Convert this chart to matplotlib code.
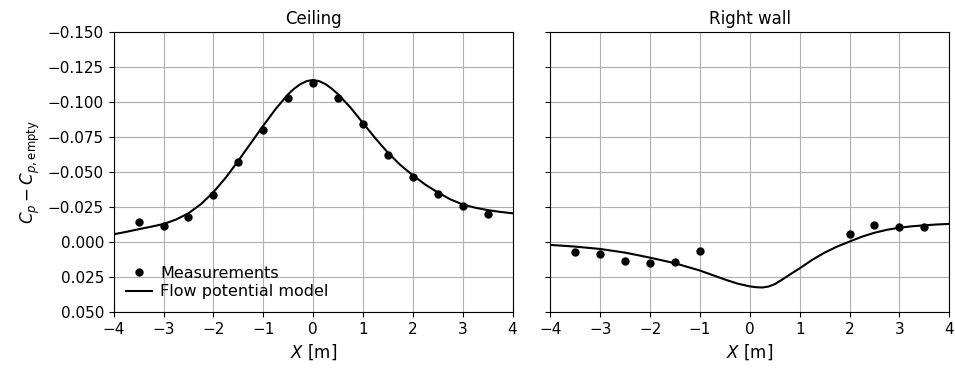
import numpy as np
import matplotlib
matplotlib.use('Agg')
import matplotlib.pyplot as plt
from matplotlib.ticker import FuncFormatter

# --- datos ---
x_medidas = [-3.5, -3.0, -2.5, -2.0, -1.5, -1.0, -0.5, 0.0, 0.5, 1.0, 1.5, 2.0, 2.5, 3.0, 3.5]
techo_medidas = [-0.0141, -0.0114, -0.0180, -0.0338, -0.0569, -0.0799, -0.1030, -0.1138,
                 -0.1031, -0.0843, -0.0621, -0.0462, -0.0343, -0.0256, -0.0198]

x_pared = [-3.5, -3.0, -2.5, -2.0, -1.5, -1.0, 2.0, 2.5, 3.0, 3.5]
pared_medidas = [0.0071, 0.0085, 0.0133, 0.0151, 0.0145, 0.0064, -0.0055, -0.0121, -0.0106, -0.0110]

# modelo de flujo potencial (techo)
x_modelo_techo = [-4.0, -3.75, -3.5, -3.25, -3.0, -2.75, -2.5, -2.25, -2.0, -1.75, -1.5, -1.25,
                  -1.0, -0.75, -0.5, -0.375, -0.25, -0.125, 0.0, 0.125, 0.25, 0.375, 0.5, 0.75,
                  1.0, 1.25, 1.5, 1.75, 2.0, 2.25, 2.5, 2.75, 3.0, 3.25, 3.5, 3.75, 4.0]
techo_modelo = [-0.0055, -0.0072, -0.0091, -0.0109, -0.0128, -0.0160, -0.0205, -0.0270,
                -0.0355, -0.0460, -0.0580, -0.0705, -0.0830, -0.0950, -0.1055, -0.1096,
                -0.1128, -0.1149, -0.1157, -0.1148, -0.1127, -0.1095, -0.1055, -0.0960,
                -0.0850, -0.0740, -0.0638, -0.0550, -0.0476, -0.0410, -0.0354, -0.0305,
                -0.0268, -0.0245, -0.0228, -0.0215, -0.0205]

# modelo de flujo potencial (pared derecha)
x_modelo_pared = [-4.0, -3.5, -3.0, -2.5, -2.0, -1.5, -1.0, -0.75, -0.5, -0.25, 0.0, 0.125,
                  0.25, 0.375, 0.5, 0.625, 0.75, 0.875, 1.0, 1.25, 1.5, 1.75, 2.0, 2.25,
                  2.5, 2.75, 3.0, 3.25, 3.5, 3.75, 4.0]
pared_modelo = [0.0021, 0.0033, 0.0050, 0.0076, 0.0112, 0.0152, 0.0204, 0.0236,
                0.0268, 0.0297, 0.0317, 0.0323, 0.0325, 0.0318, 0.0301, 0.0274,
                0.0245, 0.0216, 0.0188, 0.0128, 0.0076, 0.0033, -0.0003, -0.0038,
                -0.0066, -0.0087, -0.0102, -0.0112, -0.0119, -0.0125, -0.0129]


def formato_y(v, pos):
    if abs(v) < 1e-9:
        v = 0.0
    return f'{v:.3f}'.replace('-', '\u2212')


fig, (ax1, ax2) = plt.subplots(1, 2, figsize=(9.55, 3.71), dpi=100, sharey=True)
fig.subplots_adjust(left=0.119, right=0.994, bottom=0.159, top=0.914, wspace=0.095)

paneles = [
    (ax1, 'Ceiling', x_medidas, techo_medidas, x_modelo_techo, techo_modelo),
    (ax2, 'Right wall', x_pared, pared_medidas, x_modelo_pared, pared_modelo),
]
for ax, titulo, xm, ym, xmod, ymod in paneles:
    ax.plot(xm, ym, 'o', color='black', markersize=5, label='Measurements')
    ax.plot(xmod, ymod, '-', color='black', linewidth=1.5, label='Flow potential model')
    ax.set_title(titulo, fontsize=12)
    ax.set_xlabel('$X$ [m]', fontsize=12)
    ax.set_xlim(-4, 4)
    ax.set_xticks(np.arange(-4, 5, 1))
    ax.grid(True)
    ax.tick_params(labelsize=11)

ax1.set_ylim(0.05, -0.15)
ax1.set_yticks(np.arange(-0.15, 0.0501, 0.025))
ax1.yaxis.set_major_formatter(FuncFormatter(formato_y))
ax1.set_ylabel(r'$C_p - C_{p,\mathrm{empty}}$', fontsize=12)
ax1.legend(loc='lower left', frameon=False, fontsize=11.5, borderaxespad=0.4,
           handlelength=1.6, handletextpad=0.5, labelspacing=0.2)

fig.savefig('out.png')
